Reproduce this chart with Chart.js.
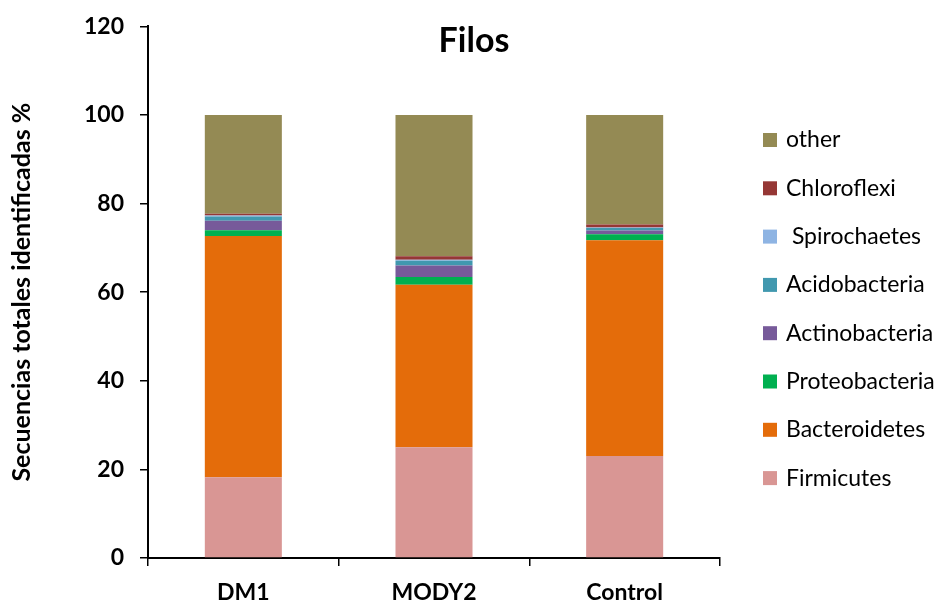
<!DOCTYPE html>
<html>
<head>
<meta charset="utf-8">
<script src="https://cdn.jsdelivr.net/npm/chart.js@4/dist/chart.umd.min.js"></script>
<style>
  html, body { margin: 0; padding: 0; background: #fff; }
  #wrap { width: 948px; height: 603px; }
</style>
</head>
<body>
<div id="wrap"><canvas id="c" width="948" height="603"></canvas></div>
<script>
// Relative abundance (%) of bacterial phyla per group
const categories = ['DM1', 'MODY2', 'Control'];
const firmicutes     = [18.2, 25.0, 23.0];
const bacteroidetes  = [54.5, 36.7, 48.7];
const proteobacteria = [1.3, 1.7, 1.4];
const actinobacteria = [2.1, 2.6, 0.8];
const acidobacteria  = [1.0, 1.1, 0.6];
const spirochaetes   = [0.2, 0.2, 0.1];
const chloroflexi    = [0.4, 0.8, 0.7];
const other          = [22.3, 31.9, 24.7];
const yTicks = [0, 20, 40, 60, 80, 100, 120];

const FONT = 'Lato, "Open Sans", sans-serif';

const series = [
  { label: 'Firmicutes', data: firmicutes, color: '#D99694' },
  { label: 'Bacteroidetes', data: bacteroidetes, color: '#E46C0A' },
  { label: 'Proteobacteria', data: proteobacteria, color: '#00B050' },
  { label: 'Actinobacteria', data: actinobacteria, color: '#775A9A' },
  { label: 'Acidobacteria', data: acidobacteria, color: '#4198AF' },
  { label: ' Spirochaetes', data: spirochaetes, color: '#8EB4E3' },
  { label: 'Chloroflexi', data: chloroflexi, color: '#953735' },
  { label: 'other', data: other, color: '#948A54' }
];

// Title centred over the whole canvas, overlapping the top of the plot
const titlePlugin = {
  id: 'plotTitle',
  afterDraw(chart) {
    const ctx = chart.ctx;
    ctx.save();
    ctx.font = 'bold 34px ' + FONT;
    ctx.fillStyle = '#000';
    ctx.textAlign = 'center';
    ctx.textBaseline = 'middle';
    ctx.fillText('Filos', chart.width / 2, 41);
    ctx.restore();
  }
};

// Legend column to the right of the plot, top entry = last stacked dataset
const sideLegend = {
  id: 'sideLegend',
  afterDraw(chart) {
    const ctx = chart.ctx;
    const ds = chart.data.datasets;
    const x0 = chart.chartArea.right + 43;
    const y0 = 140, step = 48.3, box = 14;
    ctx.save();
    ctx.font = '23px ' + FONT;
    ctx.textBaseline = 'middle';
    ctx.textAlign = 'left';
    for (let i = ds.length - 1, row = 0; i >= 0; i--, row++) {
      const y = y0 + row * step;
      ctx.fillStyle = ds[i].backgroundColor;
      ctx.fillRect(x0, y - box / 2, box, box);
      ctx.fillStyle = '#000';
      ctx.fillText(ds[i].label, x0 + box + 9, y);
    }
    ctx.restore();
  }
};

new Chart(document.getElementById('c'), {
  type: 'bar',
  data: {
    labels: categories,
    datasets: series.map(s => ({
      label: s.label,
      data: s.data,
      backgroundColor: s.color,
      borderWidth: 0,
      barPercentage: 0.404,
      categoryPercentage: 1.0
    }))
  },
  options: {
    responsive: false,
    animation: false,
    devicePixelRatio: 1,
    layout: { padding: { top: 24, right: 228, bottom: 0, left: 7 } },
    plugins: {
      tooltip: { enabled: false },
      legend: { display: false }
    },
    scales: {
      x: {
        stacked: true,
        afterFit(scale) { scale.height = 45; },
        grid: { display: true, drawOnChartArea: false, drawTicks: true, tickLength: 8, color: '#000', lineWidth: 1.5, offset: true },
        border: { display: true, color: '#000', width: 2 },
        ticks: { color: '#000', font: { family: FONT, size: 23, weight: 'bold' }, padding: 13 }
      },
      y: {
        stacked: true,
        min: 0,
        max: 120,
        afterBuildTicks(scale) { scale.ticks = yTicks.map(v => ({ value: v })); },
        afterFit(scale) { scale.width = 141; },
        grid: { display: true, drawOnChartArea: false, drawTicks: true, tickLength: 8, color: '#000', lineWidth: 1.5 },
        border: { display: true, color: '#000', width: 2 },
        ticks: { color: '#000', font: { family: FONT, size: 23, weight: 'bold', lineHeight: 0.9 }, padding: 16 },
        title: {
          display: true,
          text: 'Secuencias totales identificadas %',
          color: '#000',
          font: { family: FONT, size: 25, weight: 'bold' },
          padding: { top: 0, bottom: 0 }
        }
      }
    }
  },
  plugins: [titlePlugin, sideLegend]
});
</script>
</body>
</html>
